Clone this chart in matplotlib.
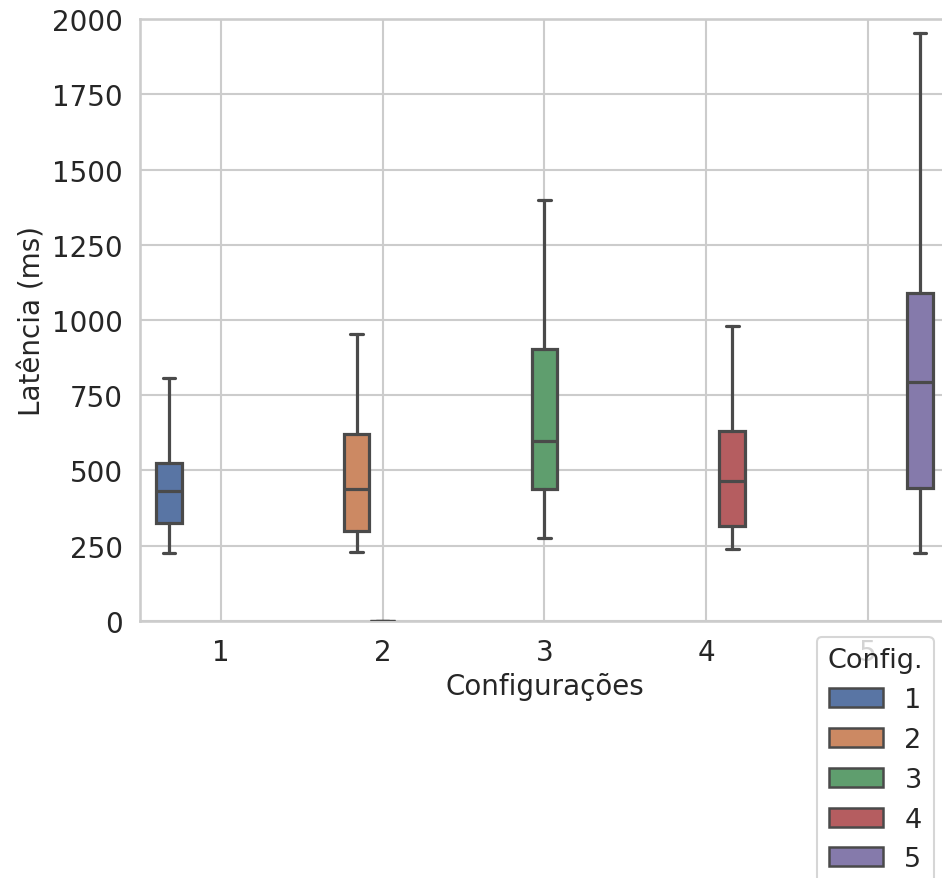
import numpy as np
import matplotlib
matplotlib.use("Agg")
import matplotlib.pyplot as plt
import matplotlib.patches as mpatches
import seaborn as sns

sns.set_theme(style="whitegrid", context="talk")
plt.rcParams['font.family'] = ['DejaVu Sans']

# x categories and hue of each drawn box
categories = ["1", "2", "3", "4", "5"]
hues = ["1", "2", "3", "4", "5"]
box_cat = ["1", "2", "3", "4", "5", "2"]
box_hue = ["1", "2", "3", "4", "5", "3"]

# box statistics (ms)
whislo = [226, 229, 276, 239, 226, 0]
q1 = [326, 299, 438, 316, 442, 0]
med = [432, 438, 598, 465, 794, 0]
q3 = [525, 621, 904, 631, 1090, 0]
whishi = [807, 953, 1399, 980, 1953, 0]

palette = sns.color_palette("deep", len(hues))
colors = [sns.desaturate(c, 0.75) for c in palette]
gray = "#4a4a4a"

fig = plt.figure(figsize=(9.42, 8.79), dpi=100)
ax = fig.add_axes([0.1486, 0.2924, 0.8588, 0.6848])

nh = len(hues)
w = 0.8 / nh
lw = 2.3
for i in range(len(box_cat)):
    xi = categories.index(box_cat[i])
    hj = hues.index(box_hue[i])
    pos = xi + (hj - (nh - 1) / 2) * w
    st = [dict(whislo=whislo[i], q1=q1[i], med=med[i], q3=q3[i], whishi=whishi[i], fliers=[])]
    ax.bxp(st, positions=[pos], widths=w * 0.98, patch_artist=True, showfliers=False,
           boxprops=dict(facecolor=colors[hj], edgecolor=gray, linewidth=lw),
           medianprops=dict(color=gray, linewidth=lw),
           whiskerprops=dict(color=gray, linewidth=lw),
           capprops=dict(color=gray, linewidth=lw),
           manage_ticks=False, zorder=3)

ax.set_xlim(-0.5, len(categories) - 0.5)
ax.set_ylim(0, 2000)
ax.set_xticks(range(len(categories)))
ax.set_xticklabels(categories)
ax.set_yticks(np.arange(0, 2001, 250))
ax.tick_params(labelsize=20)
ax.set_xlabel("Configurações", fontsize=20)
ax.set_ylabel("Latência (ms)", fontsize=20)

handles = [mpatches.Patch(facecolor=colors[j], edgecolor=gray, linewidth=1.8, label=hues[j])
           for j in range(nh)]
fig.legend(handles=handles, title="Config.", loc="upper left",
           bbox_to_anchor=(803 / 942, 1 - 624 / 879), fontsize=19.5, title_fontsize=19.5,
           labelspacing=0.51, frameon=True)

fig.savefig("out.png", dpi=100)
